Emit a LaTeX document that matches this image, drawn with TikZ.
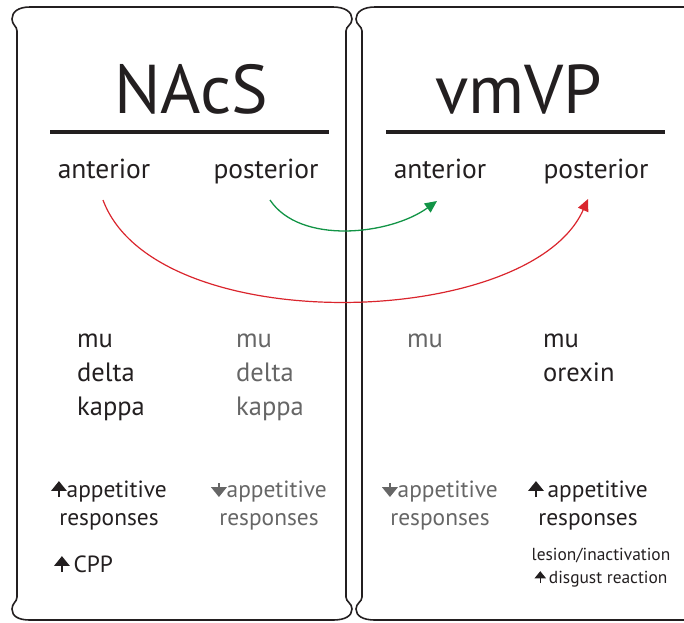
\documentclass[tikz,border=0pt]{standalone}
\usepackage{fontspec}
\setmainfont{PT Sans}
\usetikzlibrary{arrows.meta}
\definecolor{ink}{RGB}{35,31,32}
\definecolor{dimgray}{RGB}{102,102,102}
\definecolor{arrred}{RGB}{218,37,45}
\definecolor{arrgreen}{RGB}{18,148,70}
\newcommand{\uparr}[1][ink]{\tikz[baseline=0pt,x=1cm,y=1cm]\draw[#1,line width=0.08em,-{Triangle[width=0.66em,length=0.42em]}] (0pt,0pt) -- (0pt,0.68em);}
\newcommand{\downarr}[1][ink]{\tikz[baseline=0pt,x=1cm,y=1cm]\draw[#1,line width=0.08em,-{Triangle[width=0.66em,length=0.42em]}] (0pt,0.58em) -- (0pt,0pt);}
\begin{document}
\begin{tikzpicture}[x=1pt,y=-1pt,
  panel/.style={line width=1.6pt,color=ink},
  head/.style={font=\fontsize{69}{80}\selectfont,text=ink,anchor=base},
  part/.style={font=\fontsize{27.5}{30}\selectfont,text=ink,anchor=base},
  rec/.style={font=\fontsize{26.5}{34}\selectfont,text=ink,anchor=base west,align=left,inner sep=0pt},
  eff/.style={font=\fontsize{23.4}{28}\selectfont,text=ink,anchor=base,align=center,inner sep=0pt},
  small/.style={font=\fontsize{17.4}{23}\selectfont,text=ink,anchor=base,align=center,inner sep=0pt}]
\useasboundingbox (0,0) rectangle (684,622);
\clip (0,0) rectangle (684,622);
% panels
\draw[panel] (30,7) -- (333,7) .. controls (345,7) and (352,12) .. (352,19) .. controls (352,25) and (346,26) .. (346,31) -- (346,597) .. controls (346,602) and (352,603) .. (352,609) .. controls (352,616) and (345,620) .. (333,620) -- (30,620) .. controls (18,620) and (12,616) .. (12,609) .. controls (12,603) and (17,602) .. (17,597) -- (17,31) .. controls (17,26) and (12,25) .. (12,19) .. controls (12,12) and (18,7) .. (30,7) -- cycle;
\draw[panel] (700,620) -- (375,620) .. controls (363,620) and (356,616) .. (356,609) .. controls (356,603) and (362,602) .. (362,597) -- (362,31) .. controls (362,26) and (356,25) .. (356,19) .. controls (356,12) and (363,7) .. (375,7) -- (700,7);
% headings
\node[head] (nacs) at (191,113) {NAcS};
\node[head] (vmvp) at (519,113) {vmVP};
\draw[line width=3.5pt,color=ink] (50,132) -- (329,132);
\draw[line width=3.5pt,color=ink] (386,132) -- (665,132);
\node[part] (la) at (104,178) {anterior};
\node[part] (lp) at (266,178) {posterior};
\node[part] (ra) at (440,178) {anterior};
\node[part] (rp) at (596,178) {posterior};
% projections
\draw[arrgreen,line width=1.3pt,-{Triangle[length=12pt,width=11pt]}] ([xshift=4pt,yshift=-22pt]lp.base) .. controls +(30,45) and +(-47,34) .. ([xshift=-3pt,yshift=-23pt]ra.base);
\draw[arrred,line width=1.2pt,-{Triangle[length=12pt,width=11pt]}] ([xshift=-1pt,yshift=-22pt]la.base) .. controls +(52,140) and +(-58,131) .. ([xshift=-8pt,yshift=-21pt]rp.base);
% receptors (anchored at last line)
\node[rec] (larec) at (77,415) {mu\\delta\\kappa};
\node[rec,text=dimgray] (lprec) at (236,415) {mu\\delta\\kappa};
\node[rec,text=dimgray] (rarec) at (407,347) {mu};
\node[rec] (rprec) at (543,381) {mu\\orexin};
% effects
\node[eff] (laeff) at (109,525) {\uparr appetitive\\responses};
\node[eff,text=dimgray] (lpeff) at (269,525) {\downarr[dimgray]appetitive\\responses};
\node[eff,text=dimgray] (raeff) at (440,525) {\downarr[dimgray]appetitive\\responses};
\node[eff] (rpeff) at (588,525) {\uparr\,appetitive\\responses};
\node[eff,anchor=base west] (cpp) at (54,572) {\uparr\,CPP};
\node[small] (lesion) at (601,583) {lesion/inactivation\\\uparr\,disgust reaction};
\end{tikzpicture}
\end{document}
